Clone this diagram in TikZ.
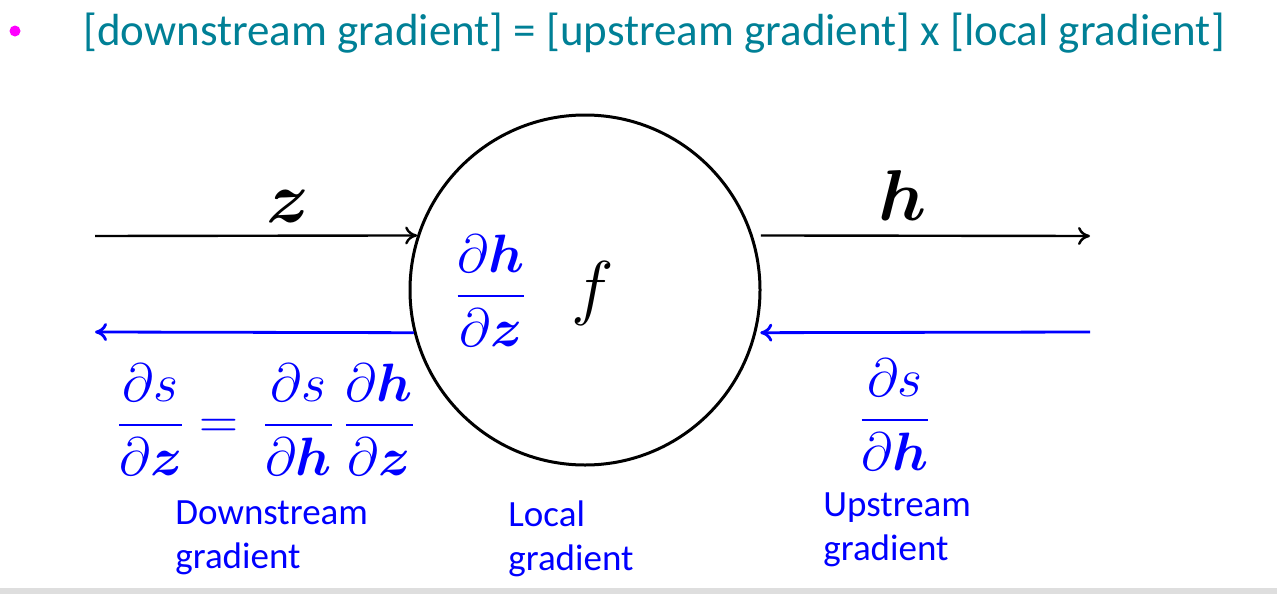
\documentclass[tikz,border=0pt]{standalone}
\usepackage{fix-cm}
\usepackage{amsmath,amssymb}
\usepackage[no-math]{fontspec}
\setmainfont{Carlito}
\usetikzlibrary{shapes,arrows.meta}
\definecolor{titleteal}{RGB}{0,128,150}
\definecolor{bulletpink}{RGB}{255,0,255}

\begin{document}
\begin{tikzpicture}[x = .5pt, y = -.5pt,
 fwd/.style = {-{To[length = 6pt, width = 9pt]}, line width = 1.2pt},
 bwd/.style = {-{To[length = 6pt, width = 9pt]}, blue, line width = 1.4pt},
 gradtext/.style = {blue, align = left, inner sep = 0, anchor = north west, font = \fontsize{18.5}{22}\selectfont},
 bigmath/.style = {font = \fontsize{36}{40}\selectfont},
 fracmath/.style = {blue, font = \fontsize{27}{32}\selectfont}]
 \useasboundingbox (0, 0) rectangle (1277, 594);
 \fill[black!13] (0, 588) rectangle (1277, 594);
 \node (bullet) at (15, 31) [bulletpink, fill, circle, minimum size = 5.5pt, inner sep = 0] {};
 \node (title) at (83, 33) [anchor = west, titleteal, inner sep = 0, font = \fontsize{22.5}{26}\selectfont] {[downstream gradient] = [upstream gradient] x [local gradient]};
 \node (fn) at (585, 290) [draw, circle, line width = 1.5pt, minimum size = 175pt, inner sep = 0] {};
 \coordinate (zstart) at (95, 236);
 \coordinate (hend) at (1090, 236);
 \coordinate (dhstart) at (1090, 332);
 \coordinate (dzend) at (95, 332);
 \draw[fwd] (zstart) -- (fn.162);
 \draw[fwd, shorten < = 4pt] (fn.18) -- (hend);
 \draw[bwd, shorten > = 2pt] (dhstart) -- (fn.-14);
 \draw[bwd] (fn.194) -- (dzend);
 \node (zlabel) at (288, 206) [bigmath] {$\boldsymbol{z}$};
 \node (hlabel) at (903, 195) [bigmath] {$\boldsymbol{h}$};
 \node (fname) at (593, 293) [bigmath] {$f$};
 \node (localgrad) at (491, 291) [fracmath] {$\dfrac{\partial \boldsymbol{h}}{\partial \boldsymbol{z}}$};
 \node (upgrad) at (895, 415) [fracmath] {$\dfrac{\partial s}{\partial \boldsymbol{h}}$};
 \node (downgrad) at (266, 420) [fracmath] {$\dfrac{\partial s}{\partial \boldsymbol{z}} = \,\dfrac{\partial s}{\partial \boldsymbol{h}}\,\dfrac{\partial \boldsymbol{h}}{\partial \boldsymbol{z}}$};
 \node (downtext) at (175, 500) [gradtext] {Downstream\\gradient};
 \node (localtext) at (508, 500) [gradtext] {Local\\gradient};
 \node (uptext) at (823, 492) [gradtext] {Upstream\\gradient};
\end{tikzpicture}
\end{document}
